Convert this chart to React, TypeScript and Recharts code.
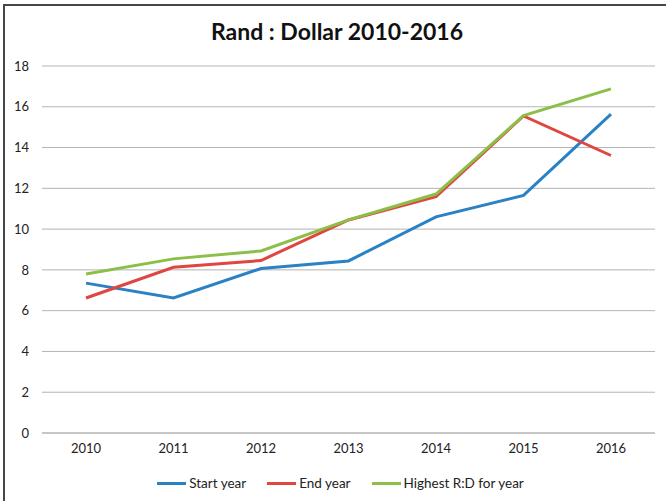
import { LineChart, Line, XAxis, YAxis, CartesianGrid, Legend } from 'recharts'

document.body.style.margin = '0'

const years = ['2010', '2011', '2012', '2013', '2014', '2015', '2016']
const startYear = [7.35, 6.62, 8.07, 8.44, 10.6, 11.65, 15.64]
const endYear = [6.62, 8.13, 8.46, 10.45, 11.59, 15.55, 13.61]
const highest = [7.8, 8.54, 8.93, 10.45, 11.72, 15.57, 16.88]
const yTicks = [0, 2, 4, 6, 8, 10, 12, 14, 16, 18]

const series = [
  { key: 'start', name: 'Start year', color: '#2a81c4' },
  { key: 'end', name: 'End year', color: '#e0453f' },
  { key: 'high', name: 'Highest R:D for year', color: '#8cbf48' }
]

const data = years.map((year, i) => ({
  year,
  start: startYear[i],
  end: endYear[i],
  high: highest[i]
}))

const font = 'Lato, "Noto Sans", sans-serif'

function LegendContent() {
  return (
    <div style={{ display: 'flex', justifyContent: 'center', alignItems: 'center', height: 24, paddingLeft: 14, fontFamily: font, fontSize: 13.5, color: '#222' }}>
      {series.map((s, i) => (
        <div key={s.key} style={{ display: 'flex', alignItems: 'center', marginLeft: i === 0 ? 0 : 21 }}>
          <span style={{ display: 'inline-block', width: 29, height: 3, background: s.color, marginRight: 3 }} />
          <span>{s.name}</span>
        </div>
      ))}
    </div>
  )
}

export default function App() {
  return (
    <div style={{ position: 'relative', width: 666, height: 501, overflow: 'hidden', background: '#fff' }}>
      <div style={{ position: 'absolute', left: 3, top: 4, width: 700, height: 600, borderTop: '2px solid #474747', borderLeft: '2px solid #474747' }} />
      <div style={{ position: 'absolute', left: 0, top: 17, width: 674, textAlign: 'center', fontFamily: font, fontWeight: 700, fontSize: 23, color: '#111' }}>
        Rand : Dollar 2010-2016
      </div>
      <div style={{ position: 'absolute', left: 0, top: 0 }}>
        <LineChart width={666} height={501} data={data} margin={{ top: 66, right: 11, left: 12, bottom: 14 }}>
          <CartesianGrid vertical={false} stroke="#b3b3b3" strokeWidth={1} />
          <XAxis
            dataKey="year"
            padding={{ left: 44, right: 44 }}
            stroke="#b3b3b3"
            tickLine={false}
            tickSize={6}
            tickMargin={5}
            height={30}
            tick={{ fill: '#222', fontSize: 13, fontFamily: font }}
          />
          <YAxis
            domain={[0, 18]}
            ticks={yTicks}
            axisLine={false}
            tickLine={false}
            width={30}
            tickSize={6}
            tickMargin={7}
            tick={{ fill: '#222', fontSize: 13, fontFamily: font }}
          />
          <Legend verticalAlign="bottom" content={<LegendContent />} wrapperStyle={{ bottom: 6 }} />
          {series.map((s) => (
            <Line
              key={s.key}
              type="linear"
              dataKey={s.key}
              name={s.name}
              stroke={s.color}
              strokeWidth={3}
              dot={false}
              activeDot={false}
              isAnimationActive={false}
            />
          ))}
        </LineChart>
      </div>
    </div>
  )
}
